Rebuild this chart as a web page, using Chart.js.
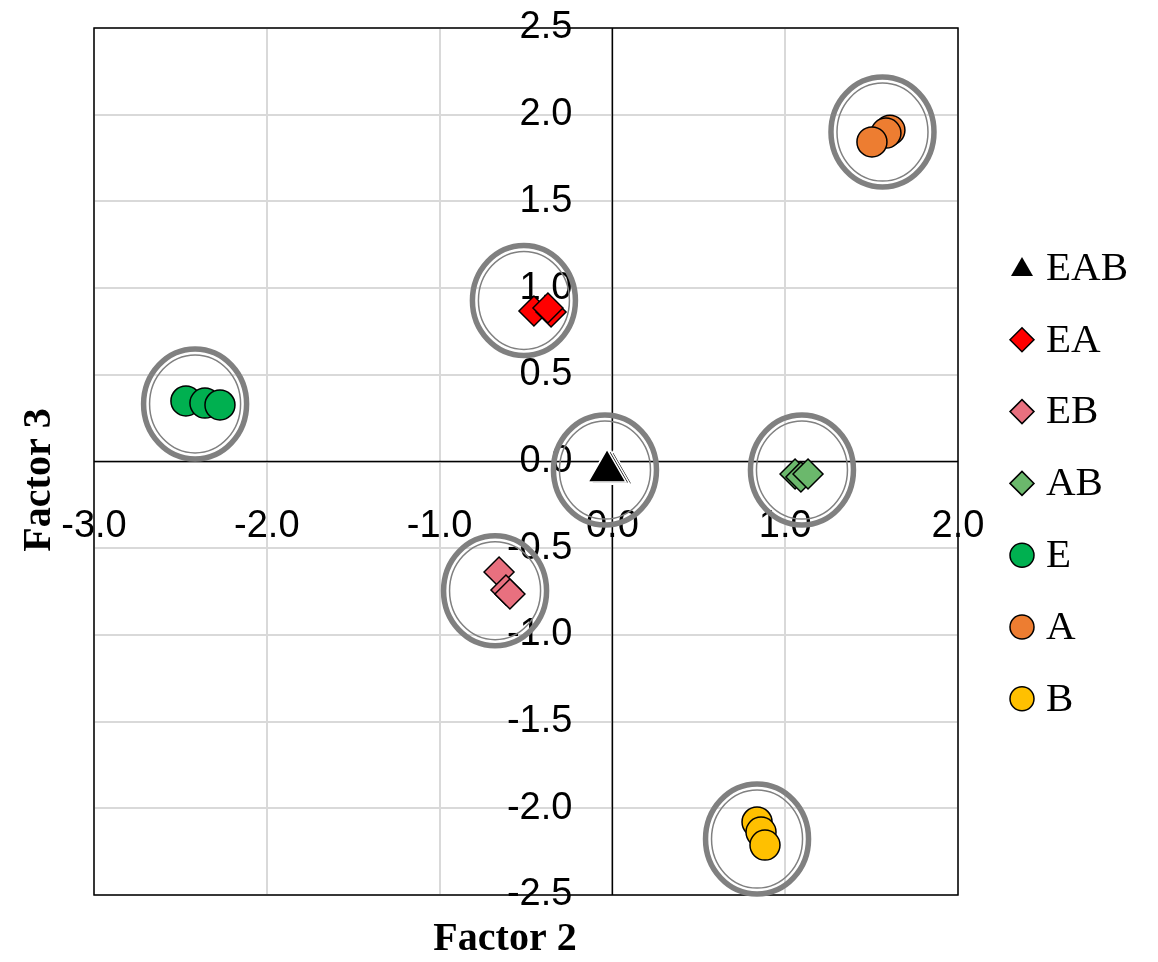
<!DOCTYPE html>
<html>
<head>
<meta charset="utf-8">
<script src="https://cdn.jsdelivr.net/npm/chart.js@4.4.0/dist/chart.umd.min.js"></script>
<style>
  html, body { margin: 0; padding: 0; background: #fff; }
</style>
</head>
<body>
<canvas id="scoreChart" width="1158" height="962"></canvas>
<script>
// --- data (Factor 2 = x, Factor 3 = y) ---
const groupNames = ["EAB", "EA", "EB", "AB", "E", "A", "B"];

const scoresEAB = [{ x: 0.005, y: -0.068 }, { x: -0.012, y: -0.062 }, { x: -0.031, y: -0.055 }];
const scoresEA  = [{ x: -0.454, y: 0.868 }, { x: -0.355, y: 0.862 }, { x: -0.373, y: 0.885 }];
const scoresEB  = [{ x: -0.656, y: -0.637 }, { x: -0.616, y: -0.741 }, { x: -0.593, y: -0.764 }];
const scoresAB  = [{ x: 1.057, y: -0.072 }, { x: 1.091, y: -0.089 }, { x: 1.132, y: -0.072 }];
const scoresE   = [{ x: -2.468, y: 0.349 }, { x: -2.358, y: 0.337 }, { x: -2.271, y: 0.326 }];
const scoresA   = [{ x: 1.606, y: 1.911 }, { x: 1.583, y: 1.894 }, { x: 1.502, y: 1.843 }];
const scoresB   = [{ x: 0.837, y: -2.079 }, { x: 0.860, y: -2.137 }, { x: 0.883, y: -2.212 }];

// centres of the grey rings drawn round each group
const ringCentres = [
  { x: -0.043, y: -0.049 }, { x: -0.512, y: 0.929 }, { x: -0.679, y: -0.745 },
  { x: 1.097, y: -0.049 }, { x: -2.415, y: 0.332 }, { x: 1.563, y: 1.900 },
  { x: 0.837, y: -2.177 }
];

const xTicks = [-3, -2, -1, 0, 1, 2];
const yTicks = [-2.5, -2, -1.5, -1, -0.5, 0, 0.5, 1, 1.5, 2, 2.5];

const tickFont = '38px "Liberation Sans", Arial, sans-serif';
const serifFont = '"Liberation Serif", "Times New Roman", serif';

function series(label, data, style, fill, radius, border) {
  return {
    label: label,
    data: data,
    pointStyle: style,
    pointRadius: radius,
    pointHoverRadius: radius,
    backgroundColor: fill,
    borderColor: border || "#000",
    borderWidth: 1.5,
    showLine: false
  };
}

// axes through zero, tick labels beside them, outer frame
const crossAxes = {
  id: "crossAxes",
  beforeDatasetsDraw(chart) {
    const { ctx, chartArea: a, scales: { x, y } } = chart;
    const x0 = x.getPixelForValue(0);
    const y0 = y.getPixelForValue(0);
    ctx.save();
    ctx.strokeStyle = "#000";
    ctx.lineWidth = 1.5;
    ctx.strokeRect(a.left, a.top, a.width, a.height);
    ctx.beginPath();
    ctx.moveTo(x0, a.top); ctx.lineTo(x0, a.bottom);
    ctx.moveTo(a.left, y0); ctx.lineTo(a.right, y0);
    ctx.stroke();

    ctx.fillStyle = "#000";
    ctx.font = tickFont;
    ctx.textBaseline = "middle";
    ctx.textAlign = "right";
    yTicks.forEach(v => ctx.fillText(v.toFixed(1), x0 - 40, y.getPixelForValue(v)));
    ctx.textAlign = "center";
    xTicks.forEach(v => ctx.fillText(v.toFixed(1), x.getPixelForValue(v), y0 + 65));
    ctx.restore();
  },
  afterDatasetsDraw(chart) {
    const { ctx, scales: { x, y } } = chart;
    ctx.save();
    ctx.strokeStyle = "#808080";
    ringCentres.forEach(c => {
      const cx = x.getPixelForValue(c.x), cy = y.getPixelForValue(c.y);
      ctx.lineWidth = 5.5;
      ctx.beginPath(); ctx.ellipse(cx, cy, 51.5, 55, 0, 0, Math.PI * 2); ctx.stroke();
      ctx.lineWidth = 1.5;
      ctx.beginPath(); ctx.ellipse(cx, cy, 45.5, 49, 0, 0, Math.PI * 2); ctx.stroke();
    });
    ctx.restore();
  },
  afterDraw(chart) {
    const { ctx } = chart;
    ctx.save();
    ctx.fillStyle = "#000";
    ctx.textAlign = "center";
    ctx.textBaseline = "middle";
    ctx.font = "bold 40px " + serifFont;
    ctx.fillText("Factor 2", 505, 940);
    ctx.translate(40, 480);
    ctx.rotate(-Math.PI / 2);
    ctx.fillText("Factor 3", 0, 0);
    ctx.restore();

    // legend on the right
    ctx.save();
    ctx.font = "41px " + serifFont;
    ctx.textAlign = "left";
    ctx.textBaseline = "middle";
    chart.data.datasets.forEach((ds, i) => {
      const cx = 1022, cy = 268 + i * 71.8;
      ctx.fillStyle = ds.backgroundColor;
      ctx.strokeStyle = "#000";
      ctx.lineWidth = 1.5;
      ctx.beginPath();
      if (ds.pointStyle === "triangle") {
        ctx.moveTo(cx, cy - 11); ctx.lineTo(cx + 11, cy + 8); ctx.lineTo(cx - 11, cy + 8);
        ctx.closePath(); ctx.fill();
      } else if (ds.pointStyle === "rectRot") {
        ctx.moveTo(cx - 12, cy); ctx.lineTo(cx, cy - 12); ctx.lineTo(cx + 12, cy); ctx.lineTo(cx, cy + 12);
        ctx.closePath(); ctx.fill(); ctx.stroke();
      } else {
        ctx.arc(cx, cy, 12, 0, Math.PI * 2); ctx.fill(); ctx.stroke();
      }
      ctx.fillStyle = "#000";
      ctx.fillText(ds.label, 1046, cy + 1);
    });
    ctx.restore();
  }
};

new Chart(document.getElementById("scoreChart"), {
  type: "scatter",
  data: {
    datasets: [
      series(groupNames[0], scoresEAB, "triangle", "#000000", 22, "#ffffff"),
      series(groupNames[1], scoresEA, "rectRot", "#ff0000", 15),
      series(groupNames[2], scoresEB, "rectRot", "#e8707f", 15),
      series(groupNames[3], scoresAB, "rectRot", "#6bb86c", 15),
      series(groupNames[4], scoresE, "circle", "#00b050", 15),
      series(groupNames[5], scoresA, "circle", "#ed7d31", 15),
      series(groupNames[6], scoresB, "circle", "#ffc000", 15)
    ]
  },
  options: {
    responsive: false,
    devicePixelRatio: 1,
    animation: false,
    layout: { padding: { left: 94, top: 28, right: 200, bottom: 67 } },
    plugins: { legend: { display: false }, tooltip: { enabled: false } },
    scales: {
      x: {
        type: "linear", min: -3, max: 2,
        ticks: { display: false, stepSize: 1 },
        grid: { color: "#d9d9d9", lineWidth: 2, drawTicks: false },
        border: { display: false }
      },
      y: {
        type: "linear", min: -2.5, max: 2.5,
        ticks: { display: false, stepSize: 0.5 },
        grid: { color: "#d9d9d9", lineWidth: 2, drawTicks: false },
        border: { display: false }
      }
    }
  },
  plugins: [crossAxes]
});
</script>
</body>
</html>
